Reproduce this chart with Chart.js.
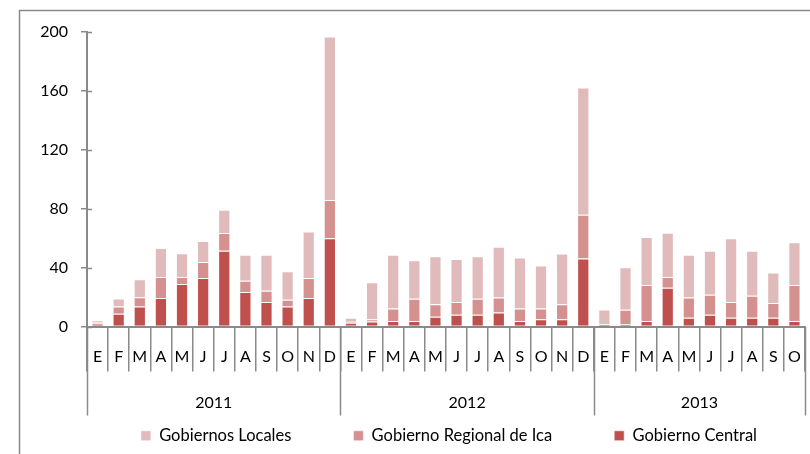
<!DOCTYPE html>
<html>
<head>
<meta charset="utf-8">
<script src="https://cdn.jsdelivr.net/npm/chart.js@4/dist/chart.umd.min.js"></script>
<style>
  html, body { margin: 0; padding: 0; background: #fff; }
  #wrap { width: 810px; height: 454px; position: relative; }
</style>
</head>
<body>
<div id="wrap"><canvas id="grafico"></canvas></div>
<script>
// meses (E..D) y años
const meses = ['E','F','M','A','M','J','J','A','S','O','N','D',
               'E','F','M','A','M','J','J','A','S','O','N','D',
               'E','F','M','A','M','J','J','A','S','O'];
const anios = ['2011', '2012', '2013'];
const mesesPorAnio = [12, 12, 10];

const gobCentral = [2, 8.6, 13.6, 19.4, 28.9, 33, 51.5, 23.5, 16.7, 13.6, 19.4, 59.9,
                    2.5, 3.4, 3.8, 3.8, 6.6, 7.9, 7.9, 9.5, 3.8, 5, 5, 46.1,
                    1.4, 1.4, 3.8, 26.4, 5.9, 7.9, 5.9, 5.9, 5.9, 3.8];
const gobRegional = [1, 5, 6.3, 14.3, 4.8, 10.8, 12, 7.5, 7.5, 4.5, 13.6, 26,
                     0.8, 1.6, 8.4, 15, 8.5, 8.8, 10.9, 10.2, 8.4, 7.2, 10.1, 29.8,
                     0.3, 9.9, 24.4, 7.3, 13.8, 13.6, 10.8, 14.9, 10.1, 24.4];
const gobLocales = [1, 5.4, 12.2, 19.6, 16, 14.2, 15.8, 17.8, 24.6, 19.4, 31.6, 111.1,
                    2.6, 25, 36.6, 26.2, 32.6, 29.2, 28.9, 34.5, 34.6, 29.2, 34.4, 86.4,
                    9.8, 28.9, 32.6, 30, 29.1, 30, 43.2, 30.7, 20.6, 29];

const gris = '#8a8a8a';

// borde exterior, fila de años bajo los meses, marcas del eje y
const extras = {
    id: 'extras',
    afterLayout(chart) {
        // la leyenda va algo corrida a la derecha en el original
        chart.legend.left += 14;
        chart.legend.right += 14;
    },
    beforeDraw(chart) {
        const c = chart.ctx;
        c.save();
        c.strokeStyle = gris;
        c.lineWidth = 1.5;
        c.strokeRect(19.5, 10.5, 900, 600);
        c.restore();
    },
    afterDraw(chart) {
        const x = chart.scales.x;
        const y = chart.scales.y;
        const c = chart.ctx;
        const w = x.width / meses.length;
        const y0 = x.top;
        c.save();
        c.strokeStyle = gris;
        c.lineWidth = 1.5;
        y.ticks.forEach(t => {
            const py = Math.round(y.getPixelForValue(t.value)) + 0.5;
            c.beginPath();
            c.moveTo(y.right, py);
            c.lineTo(y.right + 5, py);
            c.stroke();
        });
        c.fillStyle = '#000';
        c.font = '16px Lato';
        c.textAlign = 'center';
        c.textBaseline = 'middle';
        let i0 = 0;
        for (let k = 0; k <= anios.length; k++) {
            const px = Math.round(x.left + i0 * w) + 0.5;
            c.beginPath();
            c.moveTo(px, y0);
            c.lineTo(px, y0 + 89);
            c.stroke();
            if (k < anios.length) {
                const i1 = i0 + mesesPorAnio[k];
                c.fillText(anios[k], x.left + (i0 + i1) / 2 * w, y0 + 76);
                i0 = i1;
            }
        }
        c.restore();
    }
};

const ctx = document.getElementById('grafico').getContext('2d');
const grafico = new Chart(ctx, {
    type: 'bar',
    data: {
        labels: meses,
        datasets: [
            {
                label: 'Gobierno Central',
                data: gobCentral,
                backgroundColor: '#c0504d',
                borderColor: 'rgba(255,255,255,0.6)',
                borderWidth: 1,
                borderSkipped: 'bottom'
            },
            {
                label: 'Gobierno Regional de Ica',
                data: gobRegional,
                backgroundColor: '#d49190',
                borderColor: 'rgba(255,255,255,0.6)',
                borderWidth: 1,
                borderSkipped: 'bottom'
            },
            {
                label: 'Gobiernos Locales',
                data: gobLocales,
                backgroundColor: '#e1bbbb',
                borderColor: 'rgba(255,255,255,0.6)',
                borderWidth: 1,
                borderSkipped: 'bottom'
            }
        ]
    },
    options: {
        responsive: true,
        maintainAspectRatio: false,
        animation: false,
        layout: { padding: { top: 32, right: 5, bottom: 0, left: 0 } },
        datasets: { bar: { categoryPercentage: 1, barPercentage: 0.58 } },
        plugins: {
            tooltip: { enabled: false },
            legend: {
                position: 'bottom',
                align: 'end',
                reverse: true,
                labels: {
                    boxWidth: 10,
                    boxHeight: 10,
                    padding: 62,
                    color: '#000',
                    font: { family: 'Lato', size: 16.5 }
                }
            }
        },
        scales: {
            x: {
                stacked: true,
                afterFit: (s) => { s.height = 39; },
                grid: {
                    offset: true,
                    drawOnChartArea: false,
                    tickLength: 45,
                    color: gris,
                    lineWidth: 1.5
                },
                border: { color: gris, width: 2 },
                ticks: {
                    autoSkip: false,
                    maxRotation: 0,
                    padding: -24,
                    color: '#000',
                    font: { family: 'Lato', size: 16 }
                }
            },
            y: {
                stacked: true,
                min: 0,
                max: 200,
                afterFit: (s) => { s.width = 87; },
                ticks: {
                    stepSize: 40,
                    padding: 13,
                    color: '#000',
                    font: { family: 'Lato', size: 16 }
                },
                grid: {
                    drawOnChartArea: false,
                    tickLength: 6,
                    color: gris,
                    lineWidth: 1.5
                },
                border: { color: gris, width: 2 }
            }
        }
    },
    plugins: [extras]
});
</script>
</body>
</html>
